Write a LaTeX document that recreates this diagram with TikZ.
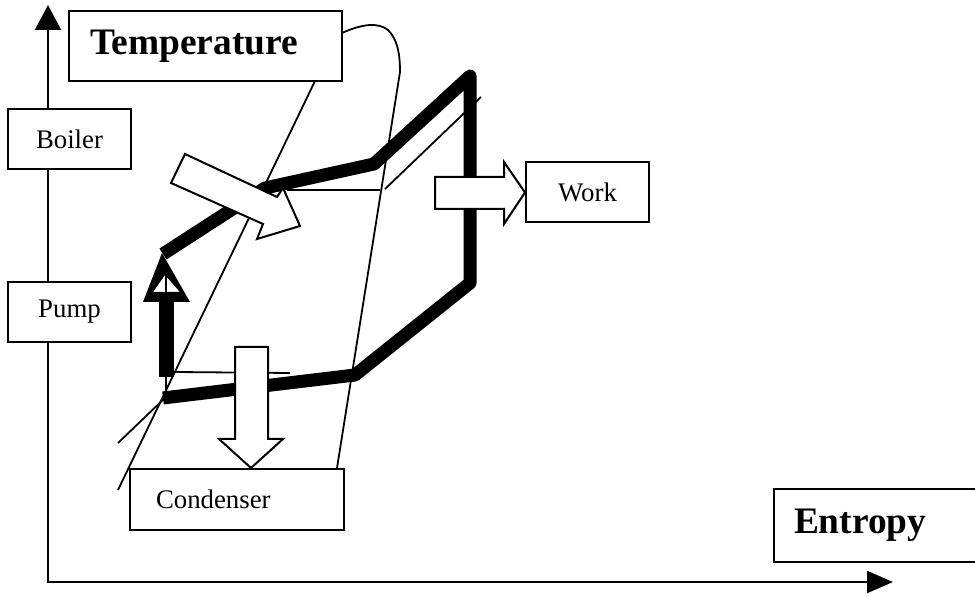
\documentclass[tikz,border=0pt]{standalone}
\usepackage{fontspec}
\setmainfont{Liberation Serif}
\usetikzlibrary{arrows.meta,positioning}

\begin{document}
\begin{tikzpicture}[x=0.5pt,y=-0.5pt,
 every node/.style={font=\fontsize{13.4}{16}\selectfont,align=center},
 box/.style={draw,fill=white,line width=1pt,inner sep=0pt,
   minimum width=61.5pt,minimum height=30pt},
 bigbox/.style={box,align=left,font=\fontsize{18.7}{22}\selectfont\bfseries},
 cycleline/.style={line width=6.5pt,line join=round},
 thinline/.style={line width=0.9pt},
 blockarrow/.style={draw,fill=white,line width=1pt,line join=miter}]
    \useasboundingbox (0,0) rectangle (975,597);
    \clip (0,0) rectangle (975,597);
    % axes
    \draw[line width=1pt,
      {Triangle[length=12.5pt,width=13pt]}-{Triangle[length=13pt,width=11pt]}]
      (48,5) -- (48,582) -- (893,582);
    % dome and helper lines
    \draw[thinline] (315,81) -- (118,490);
    \draw[thinline] (342,33) .. controls (362,24) and (378,22) .. (388,30)
      .. controls (398,40) and (400,55) .. (400,72) -- (337,468);
    \draw[thinline] (118,443) -- (168,395);
    \draw[thinline] (166,275) -- (166,398);
    \draw[thinline] (175,372) -- (290,373);
    \draw[thinline] (287,190) -- (380,190);
    \draw[thinline] (385,189) -- (481,97);
    % cycle
    \draw[cycleline] (163,254) -- (265,188) -- (374,164) -- (470,76)
      -- (470,283) -- (355,375) -- (163,398);
    % pump arrow
    \draw[line width=7.5pt] (166,377) -- (166,293);
    \fill[even odd rule] (162,253) -- (190,302) -- (143,302) -- cycle
      (165,275) -- (180,292) -- (153,292) -- cycle;
    \node[box] (work) at (587.5,192.5) {Work};
    % heat and work flows
    \draw[blockarrow] (185,154) -- (277,197) -- (283,188) -- (300,226)
      -- (257,239) -- (263,224) -- (171,183) -- cycle;
    \draw[blockarrow] (435,177) -- (504,177) -- (504,162) -- (work.west)
      -- (504,224) -- (504,209) -- (435,209) -- cycle;
    \draw[blockarrow] (235,347) -- (268,347) -- (268,439) -- (283,439)
      -- (251,468) -- (219,439) -- (235,439) -- cycle;
    % labels
    \node[bigbox,text width=115.5pt,inner xsep=10.5pt,minimum height=35pt]
      (temp) at (205.5,46) {Temperature};
    \node[box] (boiler) at (69.5,139) {Boiler};
    \node[box] (pump) at (69.5,312) {Pump};
    \node[box,align=left,text width=81pt,inner xsep=13pt,minimum height=30.5pt]
      (cond) at (237,499.5) {Condenser};
    \node[bigbox,anchor=west,text width=90pt,inner xsep=10pt,minimum height=36.5pt]
      (entropy) at (773,525.5) {Entropy};
\end{tikzpicture}
\end{document}
